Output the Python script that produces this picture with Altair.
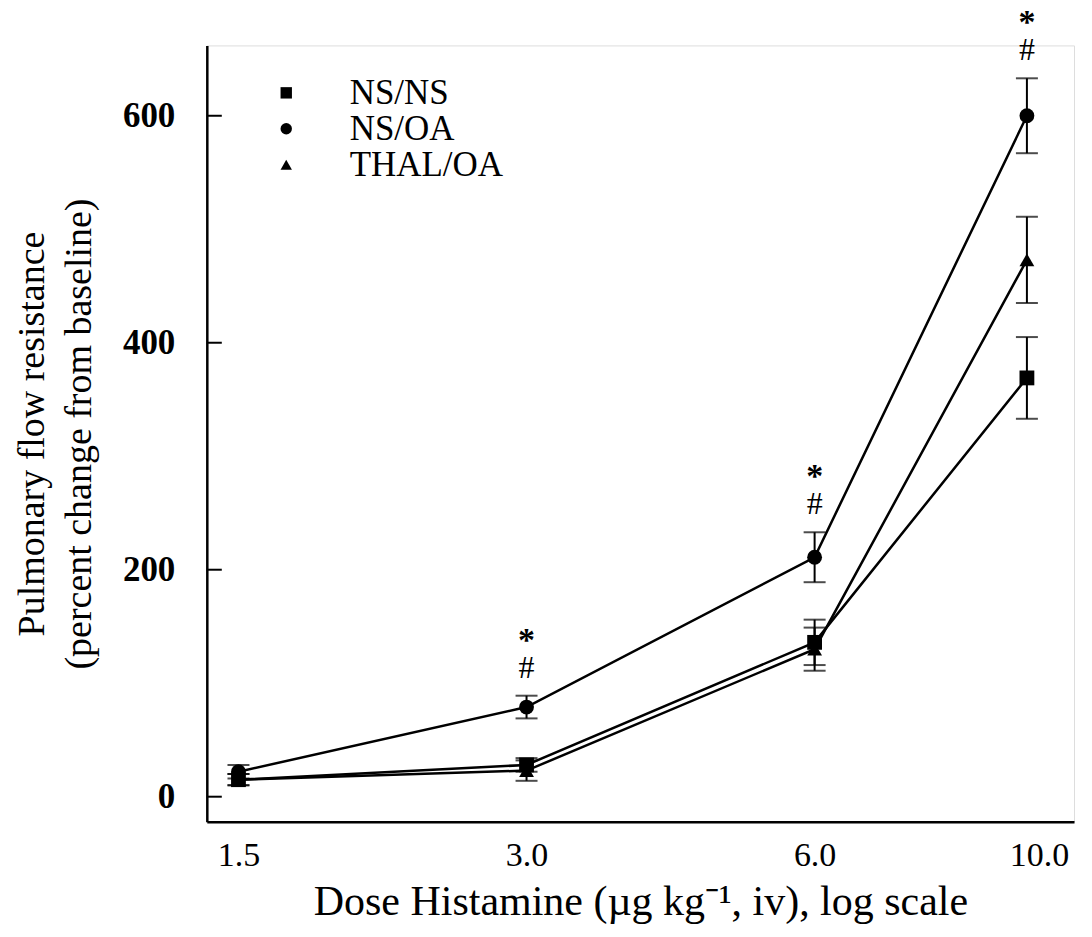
import altair as alt
import pandas as pd

doses = [1.5, 3.0, 6.0, 10.0]
groups = ["NS/NS", "NS/OA", "THAL/OA"]
ns_ns_mean = [15, 28, 136, 369]
ns_ns_sem = [5, 6, 20, 36]
ns_oa_mean = [22, 79, 211, 600]
ns_oa_sem = [6, 10, 22, 33]
thal_oa_mean = [15, 23, 130, 473]
thal_oa_sem = [5, 9, 19, 38]
sig_doses = [3.0, 6.0, 10.0]
y_ticks = [0, 200, 400, 600]

rows = []
for g, means, sems in zip(groups, [ns_ns_mean, ns_oa_mean, thal_oa_mean],
                          [ns_ns_sem, ns_oa_sem, thal_oa_sem]):
    for d, m, s in zip(doses, means, sems):
        rows.append({"dose": d, "group": g, "mean": m, "lo": m - s, "hi": m + s})
df = pd.DataFrame(rows)
sig = df[(df.group == "NS/OA") & (df.dose.isin(sig_doses))].copy()

FONT = "Liberation Serif"

xscale = alt.Scale(type="log", domain=[1.39, 11.2], nice=False)
yscale = alt.Scale(domain=[-22, 662], nice=False, zero=False)

x_enc = alt.X("dose:Q", scale=xscale, axis=alt.Axis(
    values=doses, format=".1f", ticks=False, grid=False,
    labelFont=FONT, labelFontSize=34, labelPadding=17, labelColor="black",
    labelFlush=False,
    labelOffset={"condition": {"test": "datum.value == 10", "value": 12}, "value": 0},
    title="Dose Histamine (\u00b5g kg\u207b\u00b9, iv), log scale",
    titleFont=FONT, titleFontSize=42, titleFontWeight="normal", titleColor="black",
    titlePadding=9, domainColor="black", domainWidth=2.5))
y_enc = alt.Y("mean:Q", scale=yscale, axis=alt.Axis(
    values=y_ticks, ticks=False, grid=False,
    labelFont=FONT, labelFontSize=35, labelFontWeight="bold", labelPadding=32,
    labelColor="black",
    title=["Pulmonary flow resistance", "(percent change from baseline)"],
    titleFont=FONT, titleFontSize=38, titleFontWeight="normal", titleColor="black",
    titlePadding=24, titleLineHeight=47, domainColor="black", domainWidth=2.5))

shape_scale = alt.Scale(domain=groups, range=["square", "circle", "triangle-up"])

base = alt.Chart(df)

lines = base.mark_line(color="black", strokeWidth=2.5).encode(
    x=x_enc, y=y_enc, detail="group:N")

err = base.mark_rule(color="black", strokeWidth=2).encode(
    x="dose:Q", y="lo:Q", y2="hi:Q")
cap_lo = base.mark_tick(color="black", orient="horizontal", size=22, thickness=2).encode(
    x="dose:Q", y="lo:Q")
cap_hi = base.mark_tick(color="black", orient="horizontal", size=22, thickness=2).encode(
    x="dose:Q", y="hi:Q")

points = base.mark_point(filled=True, color="black", opacity=1, size=220).encode(
    x="dose:Q", y="mean:Q",
    shape=alt.Shape("group:N", scale=shape_scale, legend=alt.Legend(
        title=None, orient="none", legendX=62, legendY=30,
        labelFont=FONT, labelFontSize=35, labelColor="black", labelLimit=400,
        symbolSize=130, symbolFillColor="black", symbolStrokeColor="black",
        labelOffset=46, rowPadding=-1)))

ytick_df = pd.DataFrame({"v": y_ticks})
inward_ticks = alt.Chart(ytick_df).mark_rule(color="black", strokeWidth=2).encode(
    y=alt.Y("v:Q"), x=alt.value(0), x2=alt.value(15))

hash_txt = alt.Chart(sig).mark_text(font=FONT, fontSize=32, color="black", dy=-28).encode(
    x="dose:Q", y="hi:Q", text=alt.value("#"))
star_txt = alt.Chart(sig).mark_text(font=FONT, fontSize=34, fontWeight="bold",
                                    color="black", dy=-55).encode(
    x="dose:Q", y="hi:Q", text=alt.value("*"))

chart = alt.layer(lines, inward_ticks, err, cap_lo, cap_hi, points, hash_txt, star_txt).properties(
    width=868, height=777,
    autosize=alt.AutoSizeParams(type="none"),
    padding={"left": 199, "top": 37, "right": 10, "bottom": 105},
).configure_view(stroke=None).configure(background="white")

chart.save("out.html", embed_options={"renderer": "svg", "actions": False})
